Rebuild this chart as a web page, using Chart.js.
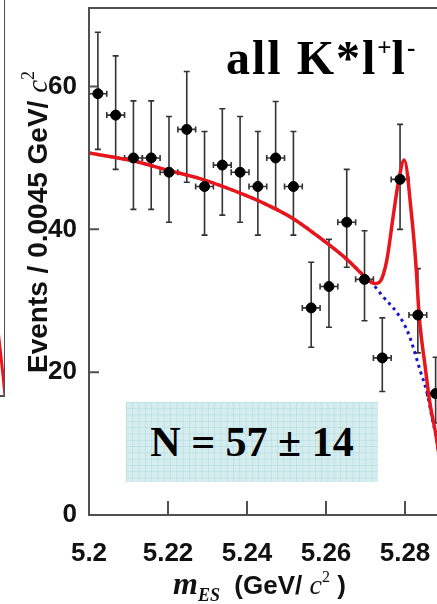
<!DOCTYPE html>
<html>
<head>
<meta charset="utf-8">
<script src="https://cdn.jsdelivr.net/npm/chart.js@4.4.0/dist/chart.umd.min.js"></script>
<style>
  html, body { margin: 0; padding: 0; background: #fff; width: 437px; height: 604px; overflow: hidden; }
  #main { position: absolute; left: 0; top: 0; width: 470px; height: 604px; }
  #side { position: absolute; left: -100px; top: 0; width: 105px; height: 400px; }
  .title {
    position: absolute; left: 226px; top: 34px; white-space: nowrap; letter-spacing: 2px;
    font: bold 48px/48px "Liberation Serif", serif; color: #000;
  }
  .title sup { font-size: 25px; line-height: 0; vertical-align: 18px; letter-spacing: 0; }
  .yield {
    position: absolute; left: 126px; top: 402px; width: 252px; height: 80px;
    background-color: #d6edef;
    background-image:
      linear-gradient(to right, rgba(140, 200, 206, 0.3) 1px, transparent 1px),
      linear-gradient(to bottom, rgba(140, 200, 206, 0.3) 1px, transparent 1px);
    background-size: 6.3px 6.3px;
    font: bold 42px/80px "Liberation Serif", serif; color: #000; text-align: center;
  }
</style>
</head>
<body>
<div id="side"><canvas id="sideChart" width="105" height="400"></canvas></div>
<div id="main"><canvas id="massChart" width="470" height="604"></canvas></div>
<div class="title">all K*l<sup>+</sup>l<sup>-</sup></div>
<div class="yield">N = 57 ± 14</div>
<script>
// m_ES bins (0.0045 GeV/c^2 wide) and event counts
const binCenters = [5.20225, 5.20675, 5.21125, 5.21575, 5.22025, 5.22475, 5.22925, 5.23375, 5.23825, 5.24275,
                    5.24725, 5.25175, 5.25625, 5.26075, 5.26525, 5.26975, 5.27425, 5.27875, 5.28325, 5.28775];
const counts  = [59, 56, 50, 50, 48, 54, 46, 49, 48, 46, 50, 46, 29, 32, 41, 33, 22, 47, 28, 17];
const errUp   = [8.6, 8.3, 8.0, 8.0, 7.8, 8.1, 7.7, 7.9, 7.8, 7.7, 7.9, 7.7, 6.4, 6.6, 7.4, 6.8, 5.6, 7.7, 6.5, 5.1];
const errDown = [7.8, 7.6, 7.2, 7.2, 7.0, 7.4, 6.8, 7.0, 7.0, 6.8, 7.1, 6.8, 5.5, 5.7, 6.3, 5.8, 4.7, 7.0, 5.3, 4.1];
const binHalfWidth = 0.00225;

// total fit (signal + background)
const fitMass  = [5.2000, 5.2111, 5.2205, 5.2281, 5.2400, 5.2433, 5.2517, 5.2585, 5.2653, 5.2696, 5.2724,
                  5.2737, 5.2754, 5.2770, 5.2783, 5.2798, 5.2817, 5.2828, 5.2836, 5.2851, 5.2863, 5.2879, 5.2900];
const fitTotal = [50.7, 49.6, 48.2, 47.1, 44.7, 43.9, 41.5, 38.8, 35.8, 33.5, 32.4,
                  32.7, 35.7, 41.8, 46.5, 49.7, 41.8, 34.8, 27.8, 20.8, 15.7, 11.0, 3.0];

// background component
const bkgMass  = [5.2000, 5.2111, 5.2205, 5.2281, 5.2400, 5.2433, 5.2517, 5.2585, 5.2653, 5.2696, 5.2719,
                  5.2744, 5.2780, 5.2805, 5.2820, 5.2838, 5.2856, 5.2868, 5.2881, 5.2900];
const bkgLevel = [50.7, 49.6, 48.2, 47.1, 44.7, 43.9, 41.5, 38.8, 35.8, 33.5, 32.3,
                  30.6, 28.3, 25.9, 23.6, 20.3, 17.1, 13.7, 10.1, 0.0];

// edge of the neighbouring panel
const sideMass = [5.2880, 5.2886, 5.2891, 5.2896, 5.2900];
const sideFit  = [9.5, 7.0, 4.6, 2.2, 0.0];

const yTicks = [0, 20, 40, 60];
const xTicks = [5.20, 5.22, 5.24, 5.26, 5.28];
const xTickLabels = ['5.2', '5.22', '5.24', '5.26', '5.28'];

const SANS = '"Liberation Sans", Arial, sans-serif';
const SERIF = '"Liberation Serif", "Times New Roman", serif';
const FRAME = '#505050';

const toPoints = (xs, ys) => xs.map((x, i) => ({ x: x, y: ys[i] }));

// vertical (Poisson) and horizontal (bin width) error bars
const errorBars = {
  id: 'errorBars',
  beforeDatasetsDraw(chart) {
    const { ctx, scales: { x, y } } = chart;
    ctx.save();
    ctx.strokeStyle = '#333';
    ctx.lineWidth = 1.6;
    binCenters.forEach((m, i) => {
      const px = x.getPixelForValue(m);
      const py = y.getPixelForValue(counts[i]);
      const top = y.getPixelForValue(counts[i] + errUp[i]);
      const bot = y.getPixelForValue(counts[i] - errDown[i]);
      const l = x.getPixelForValue(m - binHalfWidth);
      const r = x.getPixelForValue(m + binHalfWidth);
      ctx.beginPath();
      ctx.moveTo(px, top); ctx.lineTo(px, bot);
      ctx.moveTo(px - 3, top); ctx.lineTo(px + 3, top);
      ctx.moveTo(px - 3, bot); ctx.lineTo(px + 3, bot);
      ctx.moveTo(l, py); ctx.lineTo(r, py);
      ctx.moveTo(l, py - 3); ctx.lineTo(l, py + 3);
      ctx.moveTo(r, py - 3); ctx.lineTo(r, py + 3);
      ctx.stroke();
    });
    ctx.restore();
  }
};

// draws a run of differently styled text pieces, returns total width
function drawPieces(ctx, pieces, x0, y0, measureOnly) {
  let x = x0;
  pieces.forEach(p => {
    ctx.font = p.font;
    if (!measureOnly) ctx.fillText(p.t, x, y0 + (p.dy || 0));
    x += ctx.measureText(p.t).width;
  });
  return x - x0;
}

// frame, inward ticks and axis titles
const frame = {
  id: 'frame',
  afterDraw(chart) {
    const { ctx, chartArea: a, scales: { x, y } } = chart;
    ctx.save();
    ctx.strokeStyle = FRAME;
    ctx.lineWidth = 2;
    ctx.strokeRect(a.left, a.top, a.right - a.left, a.bottom - a.top);
    ctx.beginPath();
    yTicks.forEach(v => {
      const py = y.getPixelForValue(v);
      ctx.moveTo(a.left, py); ctx.lineTo(a.left + 10, py);
    });
    xTicks.forEach(v => {
      const px = x.getPixelForValue(v);
      ctx.moveTo(px, a.bottom); ctx.lineTo(px, a.bottom - 14);
    });
    ctx.stroke();

    ctx.fillStyle = '#111';
    ctx.textBaseline = 'alphabetic';
    const xTitle = [
      { t: 'm', font: 'bold italic 32px ' + SERIF },
      { t: 'ES', font: 'bold italic 18px ' + SERIF, dy: 7 },
      { t: '  (GeV/ ', font: 'bold 26px ' + SANS },
      { t: 'c', font: 'italic 28px ' + SERIF },
      { t: '2', font: '16px ' + SERIF, dy: -12 },
      { t: ' )', font: 'bold 26px ' + SANS }
    ];
    drawPieces(ctx, xTitle, 173, 594);

    const yTitle = [
      { t: 'Events / 0.0045 GeV/ ', font: 'bold 28px ' + SANS },
      { t: 'c', font: 'italic 29px ' + SERIF },
      { t: '2', font: '18px ' + SERIF, dy: -13 }
    ];
    ctx.translate(38, 222);
    ctx.rotate(-Math.PI / 2);
    const w = drawPieces(ctx, yTitle, 0, 0, true);
    drawPieces(ctx, yTitle, -w / 2, 9);
    ctx.restore();
  }
};

const tickFont = { family: SANS, size: 26, weight: 'bold' };

new Chart(document.getElementById('massChart'), {
  type: 'scatter',
  data: {
    datasets: [
      {
        label: 'Data',
        data: toPoints(binCenters, counts),
        pointRadius: 5,
        pointBackgroundColor: '#000',
        pointBorderColor: '#000',
        order: 0
      },
      {
        label: 'Fit',
        data: toPoints(fitMass, fitTotal),
        showLine: true,
        pointRadius: 0,
        borderColor: '#e8161c',
        borderWidth: 3.5,
        cubicInterpolationMode: 'monotone',
        order: 1
      },
      {
        label: 'Background',
        data: toPoints(bkgMass, bkgLevel),
        showLine: true,
        pointRadius: 0,
        borderColor: '#1414d2',
        borderWidth: 3,
        borderDash: [3, 4],
        cubicInterpolationMode: 'monotone',
        order: 2
      }
    ]
  },
  options: {
    responsive: false,
    animation: false,
    devicePixelRatio: 1,
    layout: { padding: { left: 0, top: 8, right: 25.5, bottom: 0 } },
    plugins: { legend: { display: false }, tooltip: { enabled: false } },
    scales: {
      x: {
        type: 'linear',
        min: 5.2,
        max: 5.29,
        grid: { display: false },
        border: { display: false },
        afterBuildTicks: s => { s.ticks = xTicks.map(v => ({ value: v })); },
        afterFit: s => { s.height = 89; s.paddingLeft = 0; s.paddingRight = 0; },
        ticks: {
          padding: 15,
          font: tickFont,
          color: '#111',
          maxRotation: 0,
          autoSkip: false,
          callback: (v, i) => xTickLabels[i]
        }
      },
      y: {
        min: 0,
        max: 71,
        grid: { display: false },
        border: { display: false },
        afterBuildTicks: s => { s.ticks = yTicks.map(v => ({ value: v })); },
        afterFit: s => { s.width = 89; s.paddingTop = 0; s.paddingBottom = 0; },
        ticks: {
          padding: 4,
          font: tickFont,
          color: '#111',
          callback: v => String(v)
        }
      }
    }
  },
  plugins: [errorBars, frame]
});

// sliver of the neighbouring panel on the left
const sideFrame = {
  id: 'sideFrame',
  afterDraw(chart) {
    const { ctx, chartArea: a } = chart;
    ctx.save();
    ctx.strokeStyle = FRAME;
    ctx.lineWidth = 2;
    ctx.beginPath();
    ctx.moveTo(a.right, a.top - 10);
    ctx.lineTo(a.right, a.bottom);
    ctx.lineTo(a.left, a.bottom);
    ctx.stroke();
    ctx.restore();
  }
};

new Chart(document.getElementById('sideChart'), {
  type: 'scatter',
  data: {
    datasets: [{
      data: toPoints(sideMass, sideFit),
      showLine: true,
      pointRadius: 0,
      borderColor: '#e8161c',
      borderWidth: 3,
      clip: false
    }]
  },
  options: {
    responsive: false,
    animation: false,
    devicePixelRatio: 1,
    layout: { padding: { left: 0, top: 0, right: 0, bottom: 4 } },
    plugins: { legend: { display: false }, tooltip: { enabled: false } },
    scales: {
      x: { type: 'linear', min: 5.27, max: 5.29, display: false },
      y: { min: 0, max: 40, display: false }
    }
  },
  plugins: [sideFrame]
});
</script>
</body>
</html>
